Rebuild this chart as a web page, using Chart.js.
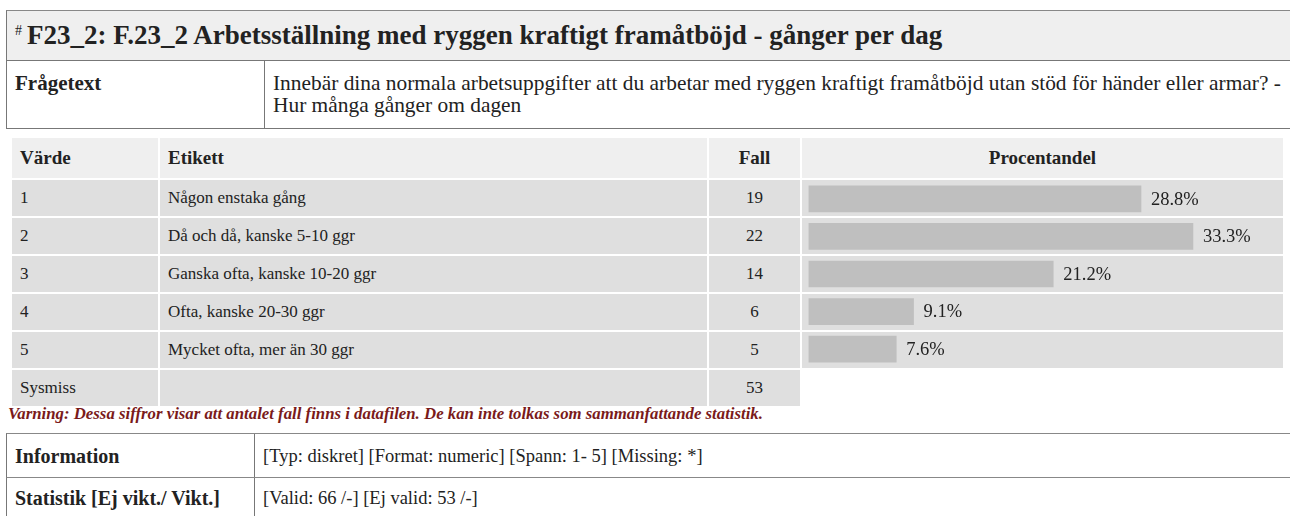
<!DOCTYPE html>
<html>
<head>
<meta charset="utf-8">
<script src="https://cdn.jsdelivr.net/npm/chart.js@4.4.0/dist/chart.umd.min.js"></script>
<style>
  body { margin: 0; width: 1290px; height: 516px; overflow: hidden; background: #fff;
         font-family: "Liberation Serif", "Times New Roman", serif; color: #222; }
  .box { position: absolute; left: 6px; top: 10px; width: 1300px; border-left: 1px solid #777; border-top: 1px solid #888; }
  .title { height: 49px; background: #efefef; border-bottom: 1px solid #777; font-size: 27px; font-weight: bold;
           line-height: 49px; padding-left: 8px; }
  .title sup { font-size: 14px; font-weight: normal; position: relative; top: -9px; vertical-align: baseline; margin-right: 5px; }
  .row { display: flex; border-bottom: 1px solid #777; font-size: 21.4px; }
  .row .lab { width: 249px; border-right: 1px solid #777; font-weight: bold; padding: 11px 0 0 8px; line-height: 22px; font-size: 21px; }
  .row .val { padding: 11px 0 0 8px; line-height: 22px; }
  table.data { position: absolute; left: 10px; top: 136px; border-spacing: 2px; font-size: 17px; table-layout: fixed; }
  table.data td, table.data th { padding: 0 0 0 8px; text-align: left; }
  table.data th { background: #efefef; height: 40px; font-weight: bold; font-size: 19px; }
  table.data td { background: #dfdfdf; height: 36px; }
  table.data .c { text-align: center; padding: 0; }
  .warn { position: absolute; left: 8px; top: 404px; font-size: 16.8px; font-weight: bold; font-style: italic; color: #7a1a1a; }
  #wrap { position: absolute; left: 802px; top: 180px; width: 481px; height: 188px; }
  .info { position: absolute; left: 6px; width: 1300px; border-left: 1px solid #777; border-top: 1px solid #888; display: flex; font-size: 20px; }
  .info .lab { width: 239px; border-right: 1px solid #777; font-weight: bold; padding-left: 8px; }
  .info .val { padding-left: 8px; font-size: 18.5px; }
</style>
</head>
<body>
<div class="box">
  <div class="title"><sup>#</sup>F23_2: F.23_2 Arbetsställning med ryggen kraftigt framåtböjd - gånger per dag</div>
  <div class="row" style="height:67px">
    <div class="lab">Frågetext</div>
    <div class="val">Innebär dina normala arbetsuppgifter att du arbetar med ryggen kraftigt framåtböjd utan stöd för händer eller armar? -<br>Hur många gånger om dagen</div>
  </div>
</div>

<table class="data" id="tbl">
  <tr>
    <th style="width:138px">Värde</th>
    <th style="width:539px">Etikett</th>
    <th class="c" style="width:91px">Fall</th>
    <th class="c" style="width:481px">Procentandel</th>
  </tr>
</table>
<div class="warn">Varning: Dessa siffror visar att antalet fall finns i datafilen. De kan inte tolkas som sammanfattande statistik.</div>
<div id="wrap"><canvas id="chart"></canvas></div>

<div class="info" style="top:433px;height:43px;line-height:44px">
  <div class="lab">Information</div>
  <div class="val">[Typ: diskret] [Format: numeric] [Spann: 1- 5] [Missing: *]</div>
</div>
<div class="info" style="top:477px;height:43px;line-height:40px">
  <div class="lab">Statistik [Ej vikt./ Vikt.]</div>
  <div class="val">[Valid: 66 /-] [Ej valid: 53 /-]</div>
</div>

<script>
const values = ["1", "2", "3", "4", "5"];
const labels = ["Någon enstaka gång", "Då och då, kanske 5-10 ggr", "Ganska ofta, kanske 10-20 ggr", "Ofta, kanske 20-30 ggr", "Mycket ofta, mer än 30 ggr"];
const counts = [19, 22, 14, 6, 5];
const percents = [28.8, 33.3, 21.2, 9.1, 7.6];
const sysmiss = 53;

// table rows
const tbl = document.getElementById("tbl");
values.forEach((v, i) => {
  const tr = document.createElement("tr");
  tr.innerHTML = `<td>${v}</td><td>${labels[i]}</td><td class="c">${counts[i]}</td><td></td>`;
  tbl.appendChild(tr);
});
const miss = document.createElement("tr");
miss.innerHTML = `<td>Sysmiss</td><td></td><td class="c">${sysmiss}</td><td style="background:transparent"></td>`;
tbl.appendChild(miss);

// percent labels after each bar
const pctLabels = {
  id: "pctLabels",
  afterDatasetsDraw(chart) {
    const ctx = chart.ctx;
    const meta = chart.getDatasetMeta(0);
    ctx.save();
    ctx.font = '18.5px "Liberation Serif", serif';
    ctx.fillStyle = "#222";
    ctx.textBaseline = "middle";
    meta.data.forEach((bar, i) => {
      ctx.fillText(percents[i].toFixed(1) + "%", bar.x + 10, bar.y + 1);
    });
    ctx.restore();
  }
};

new Chart(document.getElementById("chart"), {
  type: "bar",
  data: {
    labels: values,
    datasets: [{
      data: percents,
      backgroundColor: "#bfbfbf",
      barThickness: 26,
      borderSkipped: false
    }]
  },
  options: {
    indexAxis: "y",
    responsive: true,
    maintainAspectRatio: false,
    animation: false,
    layout: { padding: { left: 6.5, right: 0, top: 0, bottom: 0 } },
    plugins: { legend: { display: false }, tooltip: { enabled: false } },
    scales: {
      x: { display: false, min: 0, max: 41.1 },
      y: { display: false }
    }
  },
  plugins: [pctLabels]
});
</script>
</body>
</html>
